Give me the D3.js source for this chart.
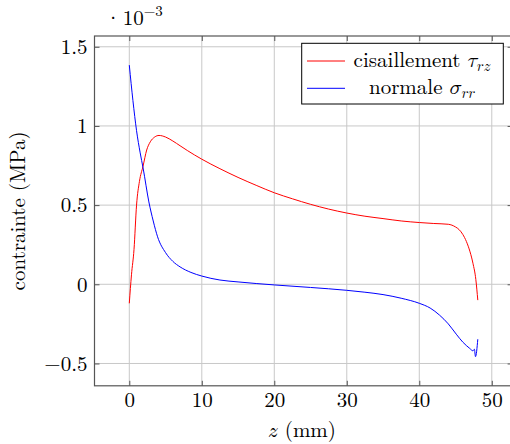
<!DOCTYPE html>
<html>
<head>
    <script src="https://d3js.org/d3.v7.min.js"></script>
    <style>
        body { margin: 0; background: #fff; }
    </style>
</head>
<body>
    <svg id="chart" width="510" height="444"></svg>

    <script>
        // cisaillement tau_rz (z en mm, valeur en 1e-3 MPa)
        var tauZ = [0, 0.3, 0.65, 1.0, 1.4, 1.89, 2.4, 2.9, 3.5, 4.1, 5, 6, 7, 8, 10, 12.5, 15, 17.5, 20, 22.5, 25, 27.5, 30, 32.5, 35, 37.5, 40, 42, 44, 45, 45.5, 46, 46.5, 47, 47.4, 47.8, 48.07];
        var tauV = [-0.12, 0.06, 0.22, 0.5, 0.65, 0.745, 0.848, 0.9, 0.93, 0.94, 0.93, 0.905, 0.875, 0.845, 0.79, 0.73, 0.675, 0.625, 0.578, 0.54, 0.505, 0.475, 0.45, 0.43, 0.415, 0.4, 0.39, 0.384, 0.379, 0.362, 0.345, 0.315, 0.27, 0.205, 0.133, 0.03, -0.1];

        // normale sigma_rr
        var sigZ = [0, 0.5, 1.0, 1.5, 1.9, 2.7, 3.3, 3.9, 5, 6, 7, 8.5, 10, 12.5, 15, 20, 25, 30, 32.5, 35, 37.5, 40, 41.5, 42.8, 44, 45.1, 46, 46.96, 47.4, 47.6, 47.75, 48.07];
        var sigV = [1.384, 1.16, 0.97, 0.83, 0.735, 0.52, 0.4, 0.3, 0.2, 0.145, 0.11, 0.075, 0.052, 0.027, 0.015, -0.004, -0.02, -0.038, -0.05, -0.065, -0.088, -0.12, -0.15, -0.195, -0.25, -0.315, -0.365, -0.405, -0.42, -0.41, -0.457, -0.347];

        var xTicks = [0, 10, 20, 30, 40, 50];
        var yTicks = [-0.5, 0, 0.5, 1, 1.5];

        var rm = '"Latin Modern Roman"', mathF = '"Latin Modern Math"';
        var pL = 94.5, pR = 512.6, pT = 36, pB = 385.8;

        var x = d3.scaleLinear().domain([-4.8, 52.87]).range([pL, pR]);
        var y = d3.scaleLinear().domain([-0.641, 1.568]).range([pB, pT]);

        var svg = d3.select("#chart");
        var fmt = d => d < 0 ? "\u2212" + Math.abs(d) : String(d);

        // grid
        svg.append("g").selectAll("line").data(xTicks).enter().append("line")
            .attr("x1", d => x(d)).attr("x2", d => x(d)).attr("y1", pT).attr("y2", pB)
            .attr("stroke", "#c8c8c8").attr("stroke-width", 1);
        svg.append("g").selectAll("line").data(yTicks).enter().append("line")
            .attr("x1", pL).attr("x2", pR).attr("y1", d => y(d)).attr("y2", d => y(d))
            .attr("stroke", "#c8c8c8").attr("stroke-width", 1);

        // axes (ticks inside)
        var ax = svg.append("g").attr("transform", `translate(0,${pB})`)
            .call(d3.axisBottom(x).tickValues(xTicks).tickSize(-5).tickPadding(6).tickFormat(fmt));
        var axTop = svg.append("g").attr("transform", `translate(0,${pT})`)
            .call(d3.axisTop(x).tickValues(xTicks).tickSize(-5).tickFormat(""));
        var ay = svg.append("g").attr("transform", `translate(${pL},0)`)
            .call(d3.axisLeft(y).tickValues(yTicks).tickSize(-5).tickPadding(7).tickFormat(fmt));
        var ayR = svg.append("g").attr("transform", `translate(${pR},0)`)
            .call(d3.axisRight(y).tickValues(yTicks).tickSize(-5).tickFormat(""));

        [ax, axTop, ay, ayR].forEach(g => {
            g.select(".domain").remove();
            g.selectAll(".tick line").attr("stroke", "#555").attr("stroke-width", 1);
            g.selectAll(".tick text").style("font-family", rm).style("font-size", "21px").attr("fill", "#000");
        });

        // frame
        svg.append("rect").attr("x", pL).attr("y", pT).attr("width", pR - pL).attr("height", pB - pT)
            .attr("fill", "none").attr("stroke", "#555").attr("stroke-width", 1.2);

        // curves
        var line = d3.line().x(d => x(d[0])).y(d => y(d[1])).curve(d3.curveMonotoneX);
        svg.append("path").datum(d3.zip(tauZ, tauV)).attr("d", line)
            .attr("fill", "none").attr("stroke", "#ff0000").attr("stroke-width", 1);
        svg.append("path").datum(d3.zip(sigZ, sigV)).attr("d", line)
            .attr("fill", "none").attr("stroke", "#0000ff").attr("stroke-width", 1);

        // exponent
        var ex = svg.append("text").attr("x", 105).attr("y", 25).style("font-family", rm).style("font-size", "21px");
        ex.append("tspan").text("\u00b7\u200a10");
        ex.append("tspan").attr("dy", -9).style("font-size", "15px").text("\u22123");

        // axis labels
        var xl = svg.append("text").attr("x", 302).attr("y", 437).attr("text-anchor", "middle")
            .style("font-family", rm).style("font-size", "21px");
        xl.append("tspan").style("font-family", mathF).text("\ud835\udc67");
        xl.append("tspan").text(" (mm)");
        svg.append("text").attr("transform", `translate(25,${(pT + pB) / 2}) rotate(-90)`)
            .attr("text-anchor", "middle").style("font-family", rm).style("font-size", "21px").text("contrainte (MPa)");

        // legend
        svg.append("rect").attr("x", 301.7).attr("y", 43.3).attr("width", 201.6).attr("height", 60.7)
            .attr("fill", "#fff").attr("stroke", "#000").attr("stroke-width", 1);
        var legend = [
            { color: "#ff0000", name: "cisaillement ", sym: "\ud835\udf0f", sub: "\ud835\udc5f\ud835\udc67", y: 61 },
            { color: "#0000ff", name: "normale ", sym: "\ud835\udf0e", sub: "\ud835\udc5f\ud835\udc5f", y: 88.3 }
        ];
        var lg = svg.selectAll(".leg").data(legend).enter().append("g").attr("class", "leg");
        lg.append("line").attr("x1", 307).attr("x2", 345).attr("y1", d => d.y).attr("y2", d => d.y)
            .attr("stroke", d => d.color).attr("stroke-width", 1);
        var lt = lg.append("text").attr("x", 422).attr("y", d => d.y + 6).attr("text-anchor", "middle")
            .style("font-family", rm).style("font-size", "21px");
        lt.append("tspan").text(d => d.name);
        lt.append("tspan").style("font-family", mathF).text(d => d.sym);
        lt.append("tspan").attr("dy", 4).style("font-family", mathF).style("font-size", "15px").text(d => d.sub);
    </script>
</body>
</html>
